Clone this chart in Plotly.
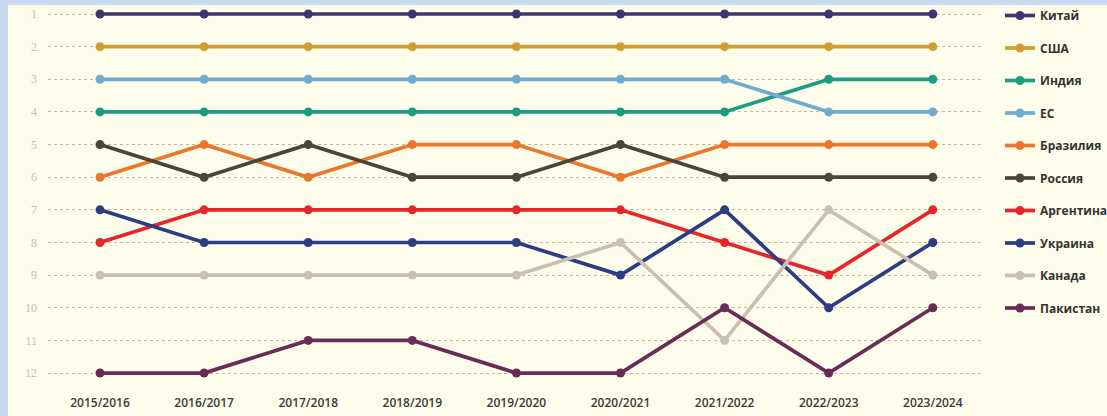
import plotly.graph_objects as go

seasons = ["2015/2016", "2016/2017", "2017/2018", "2018/2019", "2019/2020",
           "2020/2021", "2021/2022", "2022/2023", "2023/2024"]
rank_ticks = [1, 2, 3, 4, 5, 6, 7, 8, 9, 10, 11, 12]

china = [1, 1, 1, 1, 1, 1, 1, 1, 1]
usa = [2, 2, 2, 2, 2, 2, 2, 2, 2]
india = [4, 4, 4, 4, 4, 4, 4, 3, 3]
eu = [3, 3, 3, 3, 3, 3, 3, 4, 4]
brazil = [6, 5, 6, 5, 5, 6, 5, 5, 5]
russia = [5, 6, 5, 6, 6, 5, 6, 6, 6]
argentina = [8, 7, 7, 7, 7, 7, 8, 9, 7]
ukraine = [7, 8, 8, 8, 8, 9, 7, 10, 8]
canada = [9, 9, 9, 9, 9, 8, 11, 7, 9]
pakistan = [12, 12, 11, 11, 12, 12, 10, 12, 10]

series = [
    ("Китай", china, "#3b3670"),
    ("США", usa, "#d19e30"),
    ("Индия", india, "#1b9e80"),
    ("ЕС", eu, "#6eaccd"),
    ("Бразилия", brazil, "#ea772b"),
    ("Россия", russia, "#4a4636"),
    ("Аргентина", argentina, "#e5262b"),
    ("Украина", ukraine, "#2c3d84"),
    ("Канада", canada, "#c9c0b3"),
    ("Пакистан", pakistan, "#692c57"),
]

W, H = 1107, 416
ML, MR, MT, MB = 48, 124, 1, 28
plot_w = W - ML - MR
plot_h = H - MT - MB
xpx = 104.1
ypx = 32.64
x0_px = 100 - ML
x_lo = -x0_px / xpx
x_hi = x_lo + plot_w / xpx
y_top = 1 - (14 - MT) / ypx
y_bot = y_top + plot_h / ypx

xs = list(range(len(seasons)))
fig = go.Figure()
for i, (name, vals, col) in enumerate(series):
    fig.add_trace(go.Scatter(
        x=xs, y=vals, name=name, mode="lines+markers",
        line=dict(color=col, width=3.7),
        marker=dict(color=col, size=9),
        legendgroup=name,
    ))

def px_to_paper_x(p):
    return (p - ML) / plot_w

def px_to_paper_y(p):
    return (H - MB - p) / plot_h

fig.add_shape(type="rect", xref="paper", yref="paper",
              x0=px_to_paper_x(8), x1=px_to_paper_x(W + 5),
              y0=px_to_paper_y(H + 5), y1=px_to_paper_y(5),
              fillcolor="#fefdec", line=dict(width=0), layer="below")

fig.update_layout(
    width=W, height=H, autosize=False,
    margin=dict(l=ML, r=MR, t=MT, b=MB, pad=0, autoexpand=False),
    paper_bgcolor="#c6d9ef",
    plot_bgcolor="rgba(0,0,0,0)",
    showlegend=True,
    legend=dict(
        x=px_to_paper_x(1000), y=1,
        xanchor="left", yanchor="top",
        font=dict(family="Open Sans", size=12, color="#333333", weight=700),
        tracegroupgap=13.5,
        bgcolor="rgba(0,0,0,0)",
        maxheight=1,
    ),
    xaxis=dict(
        range=[x_lo, x_hi], tickvals=xs, ticktext=seasons,
        showgrid=False, zeroline=False, showline=False, ticks="",
        tickfont=dict(family="Open Sans", size=12, color="#3a3a3a", weight=600),
        ticklabelstandoff=6,
    ),
    yaxis=dict(
        range=[y_bot, y_top], tickvals=rank_ticks,
        showgrid=True, gridcolor="#cdb39a", griddash="dot", gridwidth=1,
        zeroline=False, showline=False, ticks="",
        tickfont=dict(family="Liberation Serif", size=12, color="#c8bfb3"),
        ticklabelstandoff=10,
    ),
)

fig.write_html(
    "out.html",
    config={"displayModeBar": False, "responsive": False},
    post_script="document.body.style.margin='0';document.body.style.overflow='hidden';",
)
